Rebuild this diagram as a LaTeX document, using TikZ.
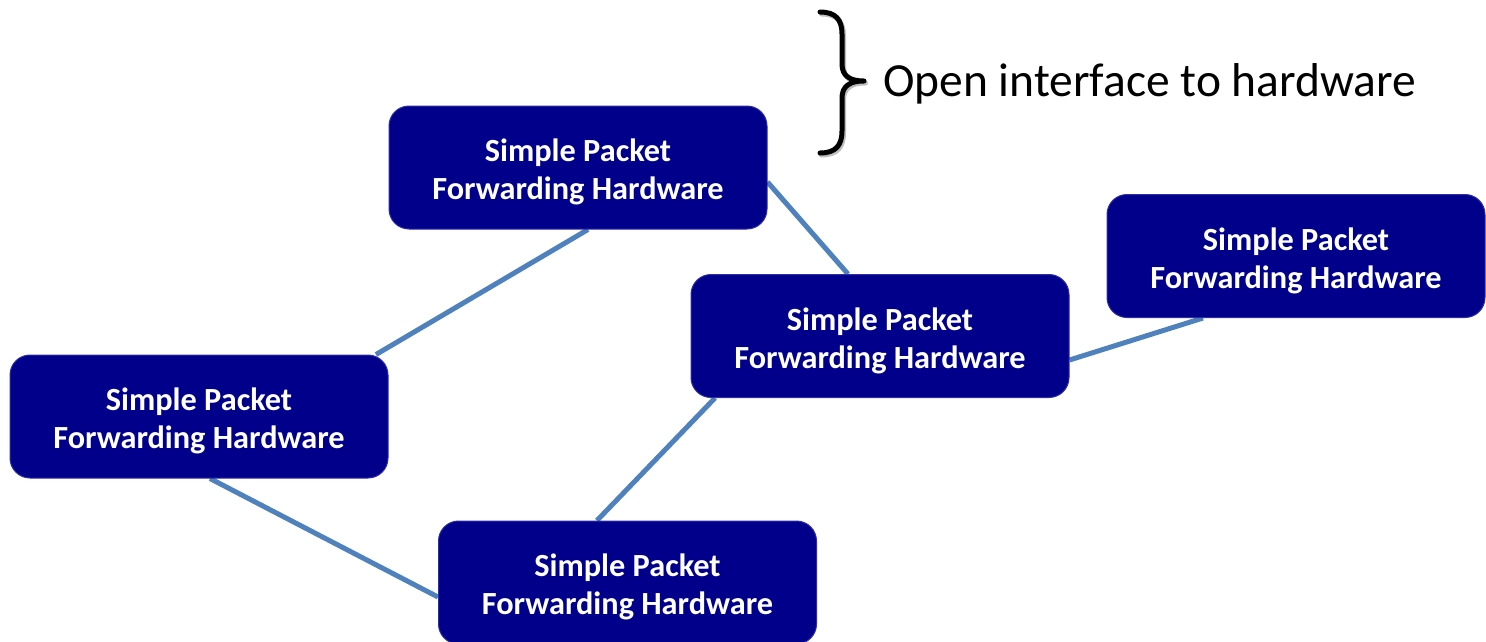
\documentclass[tikz,border=0pt]{standalone}
\usepackage{fontspec}
\setmainfont{Carlito}
\usetikzlibrary{backgrounds}
\definecolor{boxblue}{RGB}{0,0,139}
\definecolor{boxedge}{RGB}{45,45,165}
\definecolor{linkblue}{RGB}{79,129,189}

\begin{document}
\begin{tikzpicture}[x=1pt,y=-1pt,
  hwbox/.style={rectangle, rounded corners=20pt, fill=boxblue, draw=boxedge,
    line width=1pt, minimum width=378pt, minimum height=123pt, inner sep=0pt,
    text=white, font=\fontsize{32.3}{38}\selectfont\bfseries, align=center,
    text height=64pt, text depth=0pt},
  link/.style={draw=linkblue, line width=5pt},
  bracestroke/.style={line width=5pt, line cap=round, line join=round}]
\useasboundingbox (0,0) rectangle (1486,641);

% switches
\node[hwbox] (hwTop)    at (578,167.5)  {Simple Packet\\Forwarding Hardware};
\node[hwbox] (hwLeft)   at (199,416.5)  {Simple Packet\\Forwarding Hardware};
\node[hwbox] (hwMid)    at (880,336)    {Simple Packet\\Forwarding Hardware};
\node[hwbox] (hwRight)  at (1296,256)   {Simple Packet\\Forwarding Hardware};
\node[hwbox] (hwBottom) at (627.5,582.5){Simple Packet\\Forwarding Hardware};

% links, behind the switches
\begin{pgfonlayer}{background}
  \draw[link] ([yshift=-14.5pt]hwTop.east) -- ([xshift=-32pt]hwMid.north);
  \draw[link] ([xshift=10pt]hwTop.south) -- ([xshift=177pt]hwLeft.north);
  \draw[link] ([xshift=11pt]hwLeft.south) -- ([yshift=-14.5pt]hwBottom.west);
  \draw[link] ([xshift=-165pt]hwMid.south) -- ([xshift=-30.5pt]hwBottom.north);
  \draw[link] ([yshift=-24pt]hwMid.east) -- ([xshift=-93pt]hwRight.south);
\end{pgfonlayer}

% curly brace with its soft shadow
\begin{scope}[shift={(1.5,2)}]
  \draw[bracestroke, black!25]
    (820,12) .. controls (836,12) and (842,20) .. (842,34) -- (842,64)
    .. controls (842,76) and (850,81) .. (864,81)
    .. controls (850,81) and (842,86) .. (842,98) -- (842,131)
    .. controls (842,145) and (836,153) .. (820,153);
\end{scope}
\draw[bracestroke, black]
  (820,12) .. controls (836,12) and (842,20) .. (842,34) -- (842,64)
  .. controls (842,76) and (850,81) .. (864,81)
  .. controls (850,81) and (842,86) .. (842,98) -- (842,131)
  .. controls (842,145) and (836,153) .. (820,153);

\node[anchor=base west, inner sep=0pt, font=\fontsize{47.5}{57}\selectfont]
  (iface) at (883,96) {Open interface to hardware};
\end{tikzpicture}
\end{document}
